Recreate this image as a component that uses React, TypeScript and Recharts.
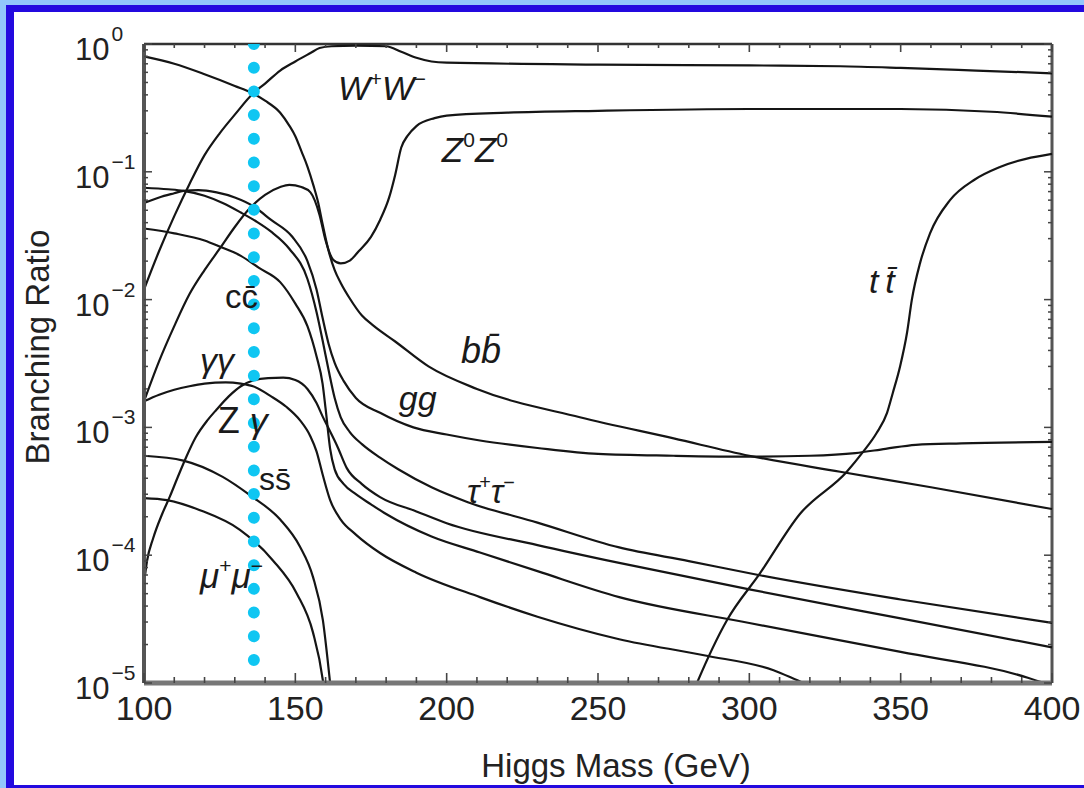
import React from "react";
import { LineChart, Line, XAxis, YAxis, ReferenceLine, ReferenceDot } from "recharts";

// branching ratios per decay channel (mass in GeV)
const wwMass = [100, 105, 110, 115, 120, 125, 130, 136, 140, 145, 150, 155, 158, 162, 170, 180, 185, 190, 195, 200, 250, 300, 330, 350, 375, 400];
const wwBR = [0.012, 0.024, 0.045, 0.08, 0.135, 0.2, 0.28, 0.41, 0.49, 0.62, 0.73, 0.85, 0.93, 0.96, 0.97, 0.96, 0.87, 0.78, 0.73, 0.715, 0.69, 0.68, 0.67, 0.65, 0.62, 0.59];

const zzMass = [100, 105, 110, 115, 120, 125, 130, 135, 140, 145, 148, 152, 155, 158, 160, 162.5, 165, 168, 171, 175, 178, 181, 183, 185, 187, 190, 196, 200, 220, 250, 300, 350, 380, 400];
const zzBR = [0.0016, 0.0033, 0.0062, 0.011, 0.017, 0.025, 0.037, 0.052, 0.066, 0.076, 0.079, 0.076, 0.069, 0.046, 0.029, 0.0205, 0.0192, 0.0202, 0.024, 0.031, 0.042, 0.063, 0.095, 0.155, 0.19, 0.228, 0.263, 0.275, 0.29, 0.3, 0.31, 0.31, 0.295, 0.27];

const bbMass = [100, 110, 120, 130, 136, 140, 145, 148, 150, 152, 154, 156, 157.5, 159, 161, 163, 165, 168, 172, 176, 183, 194, 210, 244, 275, 300, 330, 360, 400];
const bbBR = [0.8, 0.7, 0.58, 0.47, 0.41, 0.36, 0.29, 0.23, 0.19, 0.145, 0.11, 0.078, 0.058, 0.039, 0.024, 0.017, 0.0135, 0.0102, 0.0075, 0.0062, 0.0047, 0.003, 0.002, 0.0012, 0.00082, 0.0006, 0.00045, 0.00034, 0.00023];

const ggMass = [100, 105, 110, 113, 118, 124, 130, 136, 142, 149, 154, 157, 159, 161, 163, 166, 170, 178, 189, 200, 211, 230, 250, 275, 300, 320, 335, 345, 355, 370, 400];
const ggBR = [0.057, 0.063, 0.068, 0.071, 0.072, 0.069, 0.063, 0.054, 0.042, 0.031, 0.02, 0.012, 0.0072, 0.0045, 0.0032, 0.0023, 0.0017, 0.0013, 0.001, 0.00088, 0.00079, 0.00069, 0.00062, 0.0006, 0.00059, 0.0006, 0.00063, 0.00068, 0.00073, 0.00075, 0.00077];

const tauMass = [100, 108, 113, 120, 126, 132, 137, 142, 148, 154, 157, 159, 161, 163, 165, 168, 172, 178, 184, 195, 207, 230, 257, 280, 303, 350, 400];
const tauBR = [0.075, 0.073, 0.071, 0.065, 0.057, 0.048, 0.041, 0.034, 0.025, 0.0145, 0.008, 0.0048, 0.0028, 0.0017, 0.0012, 0.00092, 0.00074, 0.00058, 0.00047, 0.00034, 0.00026, 0.00018, 0.000115, 0.00009, 0.00007, 0.000045, 0.0000295];

const ccMass = [100, 110, 120, 125, 132, 138, 145, 150, 154, 157, 159, 160, 161.5, 163, 166, 170, 175, 180, 195, 211, 230, 257, 300, 350, 392, 400];
const ccBR = [0.036, 0.033, 0.029, 0.026, 0.022, 0.0177, 0.0137, 0.0093, 0.0062, 0.0036, 0.0022, 0.0014, 0.00068, 0.00047, 0.00036, 0.0003, 0.00025, 0.00021, 0.00014, 0.000105, 0.000075, 0.000047, 0.0000295, 0.0000175, 0.000011, 0.0000095];

const zgMass = [100, 101, 103, 106, 108.6, 111, 114, 117, 121, 124, 128, 132, 136, 141, 146, 150, 154, 157, 159, 161, 164, 167, 172, 178, 190, 200, 230, 257, 300, 350, 400];
const zgBR = [0.00006, 0.00009, 0.000135, 0.00021, 0.00029, 0.0004, 0.00059, 0.00083, 0.00114, 0.00138, 0.00175, 0.0021, 0.00233, 0.00243, 0.00245, 0.00235, 0.002, 0.00155, 0.00122, 0.00098, 0.0007, 0.00048, 0.00036, 0.000285, 0.00022, 0.000178, 0.00012, 0.000087, 0.000054, 0.000032, 0.000019];

const gamMass = [100, 105, 110, 115, 120, 127, 132, 136, 142, 147, 151.5, 155, 157, 159, 161.5, 165, 170, 178, 190, 211, 230, 257, 285, 308, 318, 330];
const gamBR = [0.0016, 0.0018, 0.00197, 0.0021, 0.0022, 0.00225, 0.0022, 0.0021, 0.00175, 0.00145, 0.00114, 0.00085, 0.00065, 0.00043, 0.00027, 0.00019, 0.000145, 0.000104, 0.000073, 0.000047, 0.000033, 0.000022, 0.0000165, 0.0000126, 0.00001, 0.000008];

const ssMass = [100, 113, 126, 135, 145, 151.5, 155.8, 159.1, 161.4, 162.5];
const ssBR = [0.0006, 0.00055, 0.00041, 0.000295, 0.00019, 0.000117, 0.000068, 0.000031, 0.0000105, 0.000006];

const muMass = [100, 107.6, 118.5, 131.7, 142.6, 150.5, 155.8, 159.1, 160];
const muBR = [0.00028, 0.00027, 0.000225, 0.000158, 0.000091, 0.00005, 0.000025, 0.0000105, 0.000007];

const ttMass = [281, 282.7, 292.6, 303.5, 316.7, 332.2, 337.5, 342, 345.5, 347.4, 349.8, 352.1, 353.7, 356.4, 359.7, 366.3, 374.5, 382.8, 400];
const ttBR = [0.000008, 0.00001, 0.000031, 0.000072, 0.00021, 0.00045, 0.00064, 0.0009, 0.0013, 0.00186, 0.003, 0.0055, 0.01, 0.0193, 0.033, 0.06, 0.087, 0.109, 0.138];

// highlighted mass (dotted cyan line)
const markerMass = 136.3;

const xTicks = [100, 110, 120, 130, 140, 150, 160, 170, 180, 190, 200, 210, 220, 230, 240, 250, 260, 270, 280, 290, 300, 310, 320, 330, 340, 350, 360, 370, 380, 390, 400];
const decades = [1, 0.1, 0.01, 0.001, 0.0001, 0.00001];

const yTicks: number[] = [];
decades.forEach((d) => {
  yTicks.push(d);
  if (d < 1) for (let k = 2; k <= 9; k++) yTicks.push(d * k);
});

const toSeries = (mass: number[], br: number[]) => mass.map((m, i) => ({ m, v: br[i] }));

const channels = [
  { name: "WW", data: toSeries(wwMass, wwBR) },
  { name: "ZZ", data: toSeries(zzMass, zzBR) },
  { name: "bb", data: toSeries(bbMass, bbBR) },
  { name: "gg", data: toSeries(ggMass, ggBR) },
  { name: "tautau", data: toSeries(tauMass, tauBR) },
  { name: "cc", data: toSeries(ccMass, ccBR) },
  { name: "Zgamma", data: toSeries(zgMass, zgBR) },
  { name: "gammagamma", data: toSeries(gamMass, gamBR) },
  { name: "ss", data: toSeries(ssMass, ssBR) },
  { name: "mumu", data: toSeries(muMass, muBR) },
  { name: "tt", data: toSeries(ttMass, ttBR) },
];

const markerData = [
  { m: markerMass, v: 1 },
  { m: markerMass, v: 0.00001 },
];

// curve annotations, placed at (mass, BR) of the text baseline start
type Part = [string, "i" | "n" | "sup"];
const curveTags: { m: number; v: number; size: number; parts: Part[] }[] = [
  { m: 164.1, v: 0.365, size: 34, parts: [["W", "i"], ["+", "sup"], ["W", "i"], ["\u2212", "sup"]] },
  { m: 198.4, v: 0.119, size: 35, parts: [["Z", "i"], ["0", "sup"], ["Z", "i"], ["0", "sup"]] },
  { m: 339.5, v: 0.0113, size: 34, parts: [["t\u2009t\u0304", "i"]] },
  { m: 204.7, v: 0.00319, size: 36, parts: [["bb\u0304", "i"]] },
  { m: 184.2, v: 0.00137, size: 34, parts: [["gg", "i"]] },
  { m: 126.8, v: 0.0086, size: 33, parts: [["cc\u0304", "n"]] },
  { m: 118.5, v: 0.00271, size: 34, parts: [["\u03b3\u03b3", "i"]] },
  { m: 124.4, v: 0.000904, size: 36, parts: [["Z ", "n"], ["\u03b3", "i"]] },
  { m: 138.0, v: 0.000324, size: 32, parts: [["ss\u0304", "n"]] },
  { m: 206.7, v: 0.000256, size: 33, parts: [["\u03c4", "i"], ["+", "sup"], ["\u03c4", "i"], ["\u2212", "sup"]] },
  { m: 118.5, v: 0.0000554, size: 35, parts: [["\u03bc", "i"], ["+", "sup"], ["\u03bc", "i"], ["\u2212", "sup"]] },
];

const FONT = "'Liberation Sans', Arial, sans-serif";
const PLOT_TOP = 44;
const PLOT_RIGHT = 1052;

function XTick(props: any) {
  const { x, y, payload } = props;
  const major = payload.value % 50 === 0;
  const len = major ? 10 : 6;
  return (
    <g>
      <line x1={x} x2={x} y1={y} y2={y - len} stroke="#444" strokeWidth={1.6} />
      <line x1={x} x2={x} y1={PLOT_TOP} y2={PLOT_TOP + len - 2} stroke="#444" strokeWidth={1.6} />
      {major && (
        <text x={x} y={y + 37} textAnchor="middle" fontSize={34} fill="#222" fontFamily={FONT}>
          {payload.value}
        </text>
      )}
    </g>
  );
}

function YTick(props: any) {
  const { x, y, payload } = props;
  const lg = Math.log10(payload.value);
  const major = Math.abs(lg - Math.round(lg)) < 1e-6;
  const len = major ? 8 : 4;
  const e = Math.round(lg);
  return (
    <g>
      <line x1={x} x2={x + len} y1={y} y2={y} stroke="#444" strokeWidth={1.5} />
      <line x1={PLOT_RIGHT - len} x2={PLOT_RIGHT} y1={y} y2={y} stroke="#444" strokeWidth={1.5} />
      {major && (
        <text x={x - 69} y={y + 16} fontSize={31} fill="#222" fontFamily={FONT}>
          10
          <tspan dx={2} dy={-19} fontSize={21}>
            {e === 0 ? "0" : "\u2212" + -e}
          </tspan>
        </text>
      )}
    </g>
  );
}

const renderTag = (tag: { size: number; parts: Part[] }) => (props: any) => {
  const vb = props.viewBox || {};
  const s = tag.size;
  let raised = false;
  return (
    <text x={vb.x} y={vb.y} fontSize={s} fill="#1a1a1a" fontFamily={FONT}>
      {tag.parts.map(([t, k], i) => {
        let dy = 0;
        if (k === "sup" && !raised) {
          dy = -0.42 * s;
          raised = true;
        } else if (k !== "sup" && raised) {
          dy = 0.42 * s;
          raised = false;
        }
        return (
          <tspan
            key={i}
            dy={dy}
            fontSize={k === "sup" ? 0.6 * s : s}
            fontStyle={k === "i" ? "italic" : "normal"}
          >
            {t}
          </tspan>
        );
      })}
    </text>
  );
};

export default function App() {
  return (
    <div style={{ position: "absolute", left: 0, top: 0, width: 1084, height: 788, background: "#92c6fb", overflow: "hidden" }}>
      <div style={{ position: "absolute", left: 6, top: 5, width: 1078, height: 783, background: "#2309df" }} />
      <div style={{ position: "absolute", left: 14, top: 12, width: 1070, height: 773, background: "#ffffff" }} />
      <div style={{ position: "absolute", left: 0, top: 0 }}>
        <LineChart width={1084} height={788} margin={{ top: 44, right: 32, bottom: 45, left: 8 }}>
          <XAxis
            dataKey="m"
            type="number"
            domain={[100, 400]}
            ticks={xTicks}
            interval={0}
            tickSize={0}
            tickMargin={0}
            tickLine={false}
            tick={<XTick />}
            height={60}
            axisLine={{ stroke: "#777", strokeWidth: 5 }}
            label={{
              content: (p: any) => {
                const vb = p.viewBox;
                return (
                  <text x={vb.x + vb.width / 2 + 18} y={777} textAnchor="middle" fontSize={33} fill="#222" fontFamily={FONT}>
                    Higgs Mass (GeV)
                  </text>
                );
              },
            }}
          />
          <YAxis
            dataKey="v"
            type="number"
            scale="log"
            domain={[0.00001, 1]}
            allowDataOverflow
            ticks={yTicks}
            interval={0}
            tickSize={0}
            tickMargin={0}
            tickLine={false}
            tick={<YTick />}
            width={136}
            axisLine={{ stroke: "#555", strokeWidth: 4 }}
            label={{
              content: () => (
                <text x={49} y={347} transform="rotate(-90, 49, 347)" textAnchor="middle" fontSize={33} fill="#222" fontFamily={FONT}>
                  Branching Ratio
                </text>
              ),
            }}
          />
          <ReferenceLine y={1} stroke="#333" strokeWidth={2.5} />
          <ReferenceLine x={400} stroke="#555" strokeWidth={3} />
          {channels.map((c) => (
            <Line
              key={c.name}
              data={c.data}
              dataKey="v"
              type="monotone"
              stroke="#151515"
              strokeWidth={2.2}
              dot={false}
              isAnimationActive={false}
            />
          ))}
          {curveTags.map((t, i) => (
            <ReferenceDot key={i} x={t.m} y={t.v} r={0} stroke="none" fill="none" label={renderTag(t)} />
          ))}
          <Line
            data={markerData}
            dataKey="v"
            type="linear"
            stroke="#0fc6f2"
            strokeWidth={12}
            strokeDasharray="0 23.69"
            strokeLinecap="round"
            dot={false}
            isAnimationActive={false}
          />
        </LineChart>
      </div>
    </div>
  );
}
